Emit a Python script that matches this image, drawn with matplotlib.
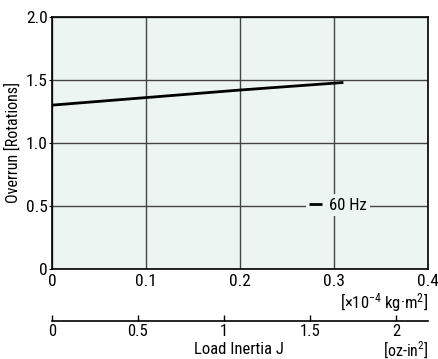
import matplotlib
matplotlib.use("Agg")
import matplotlib.pyplot as plt

plt.rcParams["font.family"] = ["Roboto Condensed", "Archivo Narrow", "DejaVu Sans"]
plt.rcParams["mathtext.fontset"] = "custom"
plt.rcParams["mathtext.rm"] = "Roboto Condensed"
plt.rcParams["mathtext.it"] = "Roboto Condensed"

# data
inertia = [0.0, 0.1, 0.2, 0.31]          # x10^-4 kg·m^2
overrun = [1.30, 1.36, 1.42, 1.48]       # rotations
series_label = "60 Hz"

x_ticks = [0, 0.1, 0.2, 0.3, 0.4]
x_ticklabels = ["0", "0.1", "0.2", "0.3", "0.4"]
y_ticks = [0, 0.5, 1.0, 1.5, 2.0]
y_ticklabels = ["0", "0.5", "1.0", "1.5", "2.0"]
oz_ticks = [0, 0.5, 1, 1.5, 2]
oz_ticklabels = ["0", "0.5", "1", "1.5", "2"]
OZIN2_TO_KGM2 = 0.18290  # 1 oz-in^2 in 10^-4 kg·m^2

fig = plt.figure(figsize=(4.39, 3.59), dpi=100)
ax = fig.add_axes([0.1185, 0.2515, 0.8565, 0.701])
ax.set_facecolor("#edf5f2")

ax.plot(inertia, overrun, color="black", lw=2, label=series_label, solid_capstyle="butt")
ax.set_xlim(0, 0.4)
ax.set_ylim(0, 2.0)
ax.set_xticks(x_ticks)
ax.set_xticklabels(x_ticklabels)
ax.set_yticks(y_ticks)
ax.set_yticklabels(y_ticklabels)
ax.grid(True, color="#444444", lw=1)
ax.set_axisbelow(True)
ax.tick_params(axis="x", length=0, labelsize=12.5, pad=4)
ax.tick_params(axis="y", length=2, labelsize=12.5, pad=1)
for s in ax.spines.values():
    s.set_linewidth(1.2)
ax.set_ylabel("Overrun [Rotations]", fontsize=11.5, labelpad=4)

leg = ax.legend(loc="center", bbox_to_anchor=(0.76, 0.253), frameon=True,
                fontsize=12, handlelength=0.8, handletextpad=0.4,
                borderpad=0.2, borderaxespad=0)
leg.get_frame().set_facecolor("#edf5f2")
leg.get_frame().set_edgecolor("none")
leg.get_frame().set_alpha(1)

fig.text(0.975, 0.157, r"[$\times$10$^{-4}$ kg·m$^{2}$]", ha="right", va="center", fontsize=12)

# second scale in oz-in^2
ax2 = fig.add_axes([0.1185, 0.1058, 0.8565, 0.001])
ax2.set_xlim(0, 0.4 / OZIN2_TO_KGM2)
ax2.set_xticks(oz_ticks)
ax2.set_xticklabels(oz_ticklabels)
ax2.set_yticks([])
for k in ("top", "left", "right"):
    ax2.spines[k].set_visible(False)
ax2.spines["bottom"].set_linewidth(1.2)
ax2.patch.set_visible(False)
ax2.tick_params(axis="x", direction="in", length=4, width=1, labelsize=12, pad=2,
                bottom=True, top=False)

fig.text(0.545, 0.026, "Load Inertia J", ha="center", va="center", fontsize=12)
fig.text(0.975, 0.025, "[oz-in$^{2}$]", ha="right", va="center", fontsize=11.5)

fig.savefig("out.png", dpi=100)
